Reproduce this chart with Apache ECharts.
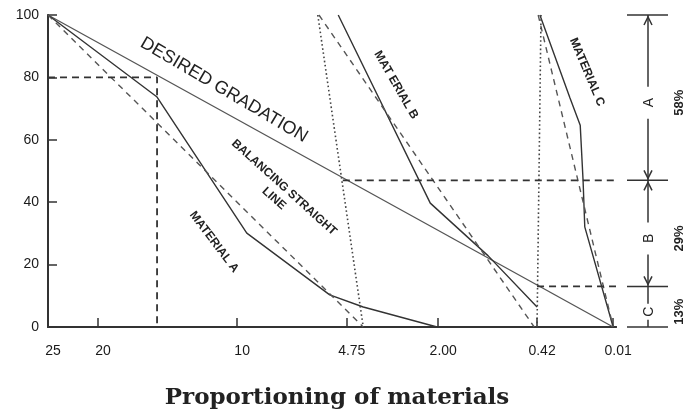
<!DOCTYPE html>
<html>
<head>
<meta charset="utf-8">
<script src="https://cdn.jsdelivr.net/npm/echarts@6/dist/echarts.min.js"></script>
<style>html,body{margin:0;padding:0;background:#fff;}#c{width:692px;height:417px;}</style>
</head>
<body>
<div id="c"></div>
<script>
// Sieve sizes (mm) and their positions along the proportioning axis (0-100)
const sievePos = [0, 8.8, 33.3, 52.6, 68.7, 86.1, 99.5];
const sieveLabels = ['25', '20', '10', '4.75', '2.00', '0.42', '0.01'];
const yTicks = [0, 20, 40, 60, 80, 100];

// Curves: [axis position, % passing]
const desired = [[0, 100], [99.5, 0]];
const matA = [[0, 100], [19.2, 73.7], [35.0, 30.1], [49.6, 10.3], [55.5, 6.4], [68.5, 0]];
const matABal = [[0, 100], [55.5, 0]];
const matB = [[51.1, 100], [67.3, 39.7], [77.5, 22.8], [86.1, 6.4]];
const matBBal = [[47.7, 100], [85.6, 0]];
const matC = [[86.6, 100], [91.9, 73.4], [93.7, 64.7], [94.2, 47.1], [94.5, 32.1], [99.5, 0]];
const matCBal = [[86.3, 100], [99.5, 0]];
const joinAB = [[47.5, 100], [55.5, 0]];
const joinBC = [[86.8, 100], [86.1, 0]];
const guide80 = [[0, 80], [19.2, 80], [19.2, 0]];
const guide47 = [[51.9, 47], [100, 47]];
const guide13 = [[86.1, 13], [100, 13]];

// Proportions
const zones = ['A', 'B', 'C'];
const shares = ['58%', '29%', '13%'];
const zoneBounds = [100, 47, 13, 0];

const INK = '#333';
const chart = echarts.init(document.getElementById('c'), null, {renderer: 'canvas'});

function lineSeries(data, type, width, color) {
  return {
    type: 'line', data: data, showSymbol: false, silent: true, animation: false,
    lineStyle: {color: color || INK, width: width || 1.3, type: type || 'solid'},
    z: 3
  };
}

chart.setOption({
  animation: false,
  backgroundColor: '#fff',
  grid: {left: 48, right: 76, top: 15, bottom: 90},
  xAxis: [{
    type: 'value', min: 0, max: 100,
    axisLine: {lineStyle: {color: INK, width: 2}},
    axisTick: {inside: true, length: 9, customValues: sievePos, lineStyle: {color: INK, width: 1.5}},
    splitLine: {show: false},
    axisLabel: {
      customValues: sievePos, margin: 17, color: '#1a1a1a', fontSize: 14,
      fontFamily: 'Liberation Sans', padding: [0, 0, 0, 10],
      formatter: function (v) {
        for (let i = 0; i < sievePos.length; i++) if (Math.abs(sievePos[i] - v) < 0.01) return sieveLabels[i];
        return '';
      }
    }
  }, {
    type: 'value', min: 0, max: 100, position: 'top',
    axisLine: {show: true, lineStyle: {color: INK, width: 2}},
    axisTick: {show: false}, axisLabel: {show: false}, splitLine: {show: false}
  }],
  yAxis: [{
    type: 'value', min: 0, max: 100, interval: 20,
    axisLine: {show: true, lineStyle: {color: INK, width: 2}},
    axisTick: {show: true, inside: true, length: 9, lineStyle: {color: INK, width: 1.5}},
    splitLine: {show: false},
    axisLabel: {margin: 9, color: '#1a1a1a', fontSize: 14, fontFamily: 'Liberation Sans'}
  }, {
    type: 'value', min: 0, max: 100, position: 'right',
    axisLine: {show: true, lineStyle: {color: INK, width: 1.5}},
    axisTick: {show: false}, axisLabel: {show: false}, splitLine: {show: false}
  }],
  series: [
    lineSeries(desired, 'solid', 1.3, '#555'),
    lineSeries(matA, 'solid', 1.4),
    lineSeries(matABal, [6, 5], 1.4, '#555'),
    lineSeries(matB, 'solid', 1.4),
    lineSeries(matBBal, [6, 5], 1.4, '#555'),
    lineSeries(matC, 'solid', 1.4),
    lineSeries(matCBal, [6, 5], 1.4, '#555'),
    lineSeries(joinAB, [1.6, 2.6], 1.6, '#444'),
    lineSeries(joinBC, [1.6, 2.6], 1.6, '#444'),
    lineSeries(guide80, [7, 5], 1.8, '#333'),
    lineSeries(guide47, [7, 5], 1.8, '#333'),
    lineSeries(guide13, [7, 5], 1.8, '#333')
  ]
});

// Annotations
const Y = v => chart.convertToPixel({yAxisIndex: 0}, v);
const g = [];
function txt(x, y, s, font, rot) {
  g.push({type: 'text', x: x, y: y, rotation: rot || 0, silent: true,
    style: {text: s, font: font, fill: '#222', align: 'center', verticalAlign: 'middle', lineHeight: 15}});
}
function seg(x1, y1, x2, y2, w) {
  g.push({type: 'line', silent: true, shape: {x1: x1, y1: y1, x2: x2, y2: y2}, style: {stroke: INK, lineWidth: w || 1.5}});
}
const deg = Math.PI / 180;
txt(224, 90, 'DESIRED GRADATION', '18px "Liberation Sans"', -30.5 * deg);
txt(396, 85, 'MAT ERIAL B', 'bold 12px "Liberation Sans"', -60 * deg);
txt(587, 72, 'MATERIAL C', 'bold 12px "Liberation Sans"', -67 * deg);
txt(279, 193, 'BALANCING STRAIGHT\nLINE', 'bold 12px "Liberation Sans"', -42 * deg);
txt(214, 242, 'MATERIAL A', 'bold 12px "Liberation Sans"', -53 * deg);

// Right-hand proportion bar
const ax = 648;
zoneBounds.forEach(b => seg(627, Y(b), 668, Y(b), 1.5));
for (let i = 0; i < zones.length; i++) {
  const top = Y(zoneBounds[i]), bot = Y(zoneBounds[i + 1]);
  const mid = (top + bot) / 2 + 5;
  const gap = (bot - top) > 60 ? 16 : 8;
  seg(ax, top, ax, mid - gap, 1.5);
  seg(ax, mid + gap, ax, bot, 1.5);
  txt(ax + 1, mid, zones[i], '14px "Liberation Sans"', 90 * deg);
  txt(679, mid, shares[i], 'bold 13px "Liberation Sans"', 90 * deg);
  if (bot - top > 60) {
    g.push({type: 'polyline', silent: true, shape: {points: [[ax - 4, top + 10], [ax, top + 2], [ax + 4, top + 10]]}, style: {stroke: INK, lineWidth: 1.5, fill: null}});
    g.push({type: 'polyline', silent: true, shape: {points: [[ax - 4, bot - 10], [ax, bot - 2], [ax + 4, bot - 10]]}, style: {stroke: INK, lineWidth: 1.5, fill: null}});
  }
}
txt(337, 398, 'Proportioning of materials', 'bold 23px "DejaVu Serif"', 0);

chart.setOption({graphic: g});
</script>
</body>
</html>
